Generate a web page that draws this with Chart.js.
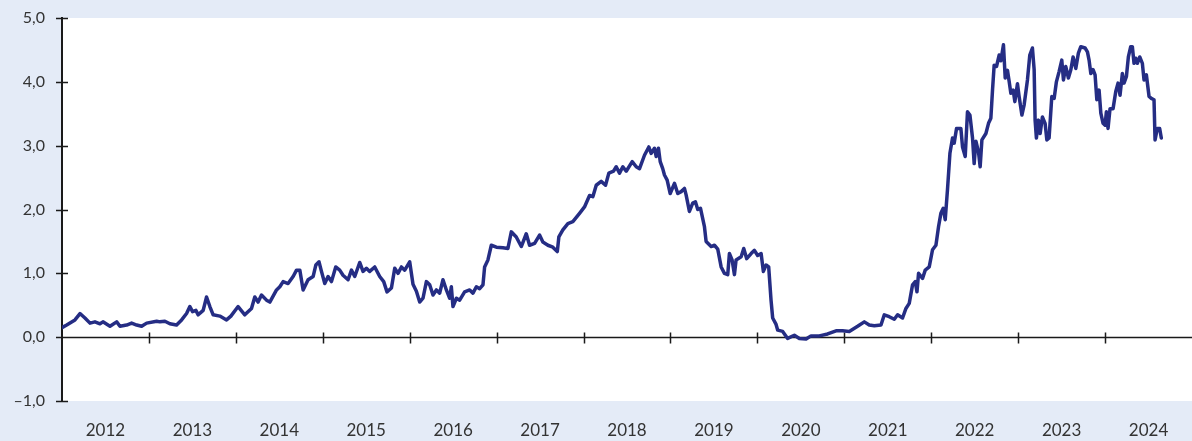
<!DOCTYPE html>
<html>
<head>
<meta charset="utf-8">
<script src="https://cdn.jsdelivr.net/npm/chart.js@4.4.1/dist/chart.umd.min.js"></script>
<style>
html,body{margin:0;padding:0;background:#e4ebf7;}
#wrap{width:1192px;height:441px;}
</style>
</head>
<body>
<div id="wrap"><canvas id="c" width="1192" height="441"></canvas></div>
<script>
// Year labels (categories) shown below the plot
const yearLabels = ['2012','2013','2014','2015','2016','2017','2018','2019','2020','2021','2022','2023','2024'];
// Y tick values
const yTicks = [-1, 0, 1, 2, 3, 4, 5];

// Series: time in decimal years
const dates = [
2012.000,2012.054,2012.149,2012.207,2012.264,2012.322,2012.379,2012.437,2012.471,2012.552,
2012.629,2012.667,2012.744,2012.801,2012.859,2012.916,2012.974,2013.089,2013.126,2013.184,
2013.241,2013.318,2013.376,2013.433,2013.471,2013.502,2013.540,2013.567,2013.624,2013.663,
2013.701,2013.739,2013.816,2013.893,2013.943,2014.026,2014.103,2014.180,2014.218,2014.256,
2014.295,2014.353,2014.391,2014.468,2014.506,2014.544,2014.601,2014.659,2014.698,2014.736,
2014.774,2014.831,2014.889,2014.920,2014.957,2014.985,2015.023,2015.061,2015.100,2015.149,
2015.195,2015.233,2015.291,2015.330,2015.368,2015.425,2015.463,2015.502,2015.540,2015.598,
2015.655,2015.701,2015.739,2015.790,2015.828,2015.866,2015.905,2015.943,2016.000,2016.038,
2016.077,2016.115,2016.153,2016.192,2016.230,2016.268,2016.307,2016.345,2016.383,2016.422,
2016.460,2016.479,2016.498,2016.537,2016.575,2016.632,2016.690,2016.728,2016.767,2016.805,
2016.843,2016.862,2016.900,2016.939,2016.997,2017.072,2017.130,2017.169,2017.226,2017.284,
2017.341,2017.379,2017.437,2017.494,2017.532,2017.590,2017.647,2017.698,2017.716,2017.762,
2017.820,2017.877,2017.954,2018.011,2018.069,2018.107,2018.146,2018.203,2018.253,2018.291,
2018.345,2018.376,2018.414,2018.452,2018.491,2018.560,2018.606,2018.644,2018.701,2018.751,
2018.778,2018.816,2018.836,2018.862,2018.882,2018.911,2018.931,2018.962,2018.997,2019.046,
2019.084,2019.123,2019.161,2019.180,2019.218,2019.256,2019.287,2019.314,2019.345,2019.391,
2019.410,2019.468,2019.506,2019.544,2019.583,2019.621,2019.659,2019.678,2019.709,2019.736,
2019.755,2019.813,2019.843,2019.877,2019.928,2019.966,2020.003,2020.043,2020.069,2020.100,
2020.130,2020.157,2020.176,2020.215,2020.234,2020.291,2020.348,2020.425,2020.483,2020.560,
2020.617,2020.713,2020.808,2020.905,2020.980,2021.057,2021.153,2021.230,2021.287,2021.345,
2021.422,2021.460,2021.517,2021.575,2021.613,2021.670,2021.709,2021.747,2021.785,2021.816,
2021.836,2021.854,2021.900,2021.931,2021.977,2022.015,2022.054,2022.084,2022.111,2022.138,
2022.161,2022.187,2022.215,2022.245,2022.264,2022.291,2022.341,2022.360,2022.391,2022.417,
2022.445,2022.475,2022.494,2022.514,2022.544,2022.563,2022.583,2022.629,2022.659,2022.686,
2022.705,2022.724,2022.751,2022.782,2022.801,2022.831,2022.851,2022.877,2022.897,2022.916,
2022.943,2022.962,2022.992,2023.011,2023.043,2023.069,2023.107,2023.134,2023.164,2023.184,
2023.195,2023.210,2023.233,2023.253,2023.279,2023.310,2023.330,2023.356,2023.387,2023.414,
2023.440,2023.471,2023.502,2023.521,2023.548,2023.578,2023.606,2023.632,2023.663,2023.693,
2023.721,2023.770,2023.797,2023.816,2023.836,2023.862,2023.885,2023.905,2023.931,2023.951,
2023.977,2024.000,2024.015,2024.034,2024.057,2024.092,2024.123,2024.149,2024.172,2024.199,
2024.218,2024.245,2024.268,2024.295,2024.314,2024.333,2024.353,2024.371,2024.399,2024.429,
2024.448,2024.475,2024.506,2024.532,2024.563,2024.575,2024.601,2024.628,2024.647
];
const values = [
0.15,0.19,0.27,0.37,0.30,0.22,0.24,0.21,0.24,0.17,
0.24,0.17,0.19,0.22,0.19,0.17,0.22,0.25,0.24,0.25,
0.21,0.19,0.27,0.37,0.48,0.40,0.42,0.35,0.42,0.63,
0.48,0.35,0.33,0.27,0.33,0.48,0.35,0.45,0.63,0.55,
0.66,0.58,0.55,0.74,0.79,0.87,0.84,0.95,1.05,1.05,
0.74,0.90,0.95,1.13,1.18,1.03,0.84,0.95,0.87,1.10,
1.05,0.97,0.90,1.05,0.95,1.17,1.03,1.08,1.03,1.10,
0.95,0.87,0.71,0.77,1.08,1.00,1.10,1.05,1.18,0.83,
0.72,0.55,0.61,0.87,0.82,0.66,0.74,0.69,0.90,0.74,
0.61,0.79,0.48,0.61,0.58,0.71,0.74,0.69,0.79,0.76,
0.82,1.10,1.21,1.44,1.41,1.40,1.39,1.65,1.57,1.42,
1.62,1.44,1.47,1.60,1.49,1.44,1.41,1.34,1.57,1.68,
1.78,1.81,1.94,2.04,2.22,2.20,2.38,2.44,2.38,2.57,
2.60,2.67,2.57,2.67,2.60,2.75,2.67,2.64,2.85,2.98,
2.88,2.96,2.83,2.96,2.75,2.64,2.54,2.46,2.25,2.41,
2.25,2.28,2.33,2.23,1.97,2.10,2.12,2.00,2.02,1.73,
1.50,1.42,1.44,1.38,1.10,1.00,0.98,1.31,1.21,0.98,
1.21,1.26,1.39,1.23,1.31,1.36,1.28,1.31,1.03,1.13,
1.10,0.58,0.30,0.20,0.11,0.09,-0.02,0.03,-0.02,-0.03,
0.02,0.02,0.05,0.10,0.10,0.09,0.17,0.24,0.19,0.18,
0.19,0.35,0.32,0.28,0.35,0.30,0.45,0.53,0.82,0.87,
0.71,1.00,0.92,1.05,1.10,1.37,1.44,1.73,1.94,2.02,
1.84,2.31,2.88,3.12,3.04,3.27,3.27,2.98,2.83,3.53,
3.48,3.12,2.72,3.07,2.90,2.67,3.09,3.19,3.35,3.43,
3.87,4.26,4.24,4.42,4.33,4.58,4.06,4.18,4.00,3.82,
3.87,3.69,3.97,3.77,3.48,3.64,4.03,4.42,4.53,4.19,
3.40,3.12,3.40,3.19,3.45,3.35,3.09,3.12,3.77,3.74,
4.00,4.16,4.34,4.03,4.24,4.06,4.19,4.39,4.21,4.45,
4.55,4.53,4.47,4.34,4.13,4.19,4.11,3.72,3.87,3.51,
3.35,3.32,3.53,3.27,3.58,3.58,3.85,3.98,3.79,4.13,
3.98,4.08,4.39,4.55,4.55,4.29,4.37,4.29,4.39,4.29,
4.03,4.11,3.77,3.74,3.72,3.09,3.27,3.27,3.12
];

const BG = '#e4ebf7';
const LINE = '#252d84';
const AXIS = '#1a1a1a';
const TEXT = '#333333';

const bgPlugin = {
  id: 'bg',
  beforeDraw(chart) {
    const {ctx, chartArea: a} = chart;
    ctx.save();
    ctx.fillStyle = BG;
    ctx.fillRect(0, 0, chart.width, chart.height);
    ctx.fillStyle = '#ffffff';
    ctx.fillRect(a.left, a.top, a.right - a.left, a.bottom - a.top);
    ctx.restore();
  },
  beforeDatasetsDraw(chart) {
    const {ctx, chartArea: a, scales: {x, y}} = chart;
    const y0 = Math.round(y.getPixelForValue(0)) + 0.5;
    ctx.save();
    ctx.strokeStyle = AXIS;
    ctx.lineWidth = 1.5;
    ctx.beginPath();
    ctx.moveTo(a.left, y0);
    ctx.lineTo(a.right, y0);
    for (let i = 1; i < yearLabels.length; i++) {
      const px = Math.round(x.getPixelForValue(+yearLabels[i])) + 0.5;
      ctx.moveTo(px, y0 - 5);
      ctx.lineTo(px, y0 + 6);
    }
    for (const v of yTicks) {
      const py = Math.round(y.getPixelForValue(v)) + 0.5;
      ctx.moveTo(a.left - 6, py);
      ctx.lineTo(a.left + 6, py);
    }
    ctx.stroke();
    ctx.restore();
  }
};

new Chart(document.getElementById('c'), {
  type: 'line',
  data: {
    datasets: [{
      data: dates.map((t, i) => ({x: t, y: values[i]})),
      borderColor: LINE,
      borderWidth: 3.5,
      pointRadius: 0,
      tension: 0,
      fill: false,
      borderJoinStyle: 'round',
      borderCapStyle: 'round'
    }]
  },
  options: {
    responsive: false,
    animation: false,
    layout: {padding: {top: 18, right: 0, bottom: 0, left: 0}},
    plugins: {legend: {display: false}, tooltip: {enabled: false}},
    scales: {
      x: {
        type: 'linear',
        min: +yearLabels[0],
        max: +yearLabels[yearLabels.length - 1] + 1,
        afterBuildTicks(scale) {
          scale.ticks = yearLabels.map(l => ({value: +l + 0.5}));
        },
        afterFit(scale) { scale.height = 40; scale.paddingLeft = 0; scale.paddingRight = 0; },
        grid: {display: false, drawTicks: false},
        border: {display: false},
        ticks: {
          autoSkip: false, maxRotation: 0, padding: 19,
          color: TEXT,
          font: {family: 'Lato, "Open Sans", sans-serif', size: 17},
          callback: v => String(Math.floor(v))
        }
      },
      y: {
        min: yTicks[0],
        max: yTicks[yTicks.length - 1],
        afterBuildTicks(scale) {
          scale.ticks = yTicks.map(v => ({value: v}));
        },
        afterFit(scale) { scale.width = 62; scale.paddingTop = 0; scale.paddingBottom = 0; },
        grid: {display: false, drawTicks: false},
        border: {display: true, color: AXIS, width: 2},
        ticks: {
          padding: 17,
          color: TEXT,
          font: {family: 'Lato, "Open Sans", sans-serif', size: 16},
          callback: v => (v < 0 ? '\u2013' : '') + Math.abs(v).toFixed(1).replace('.', ',')
        }
      }
    }
  },
  plugins: [bgPlugin]
});
</script>
</body>
</html>
